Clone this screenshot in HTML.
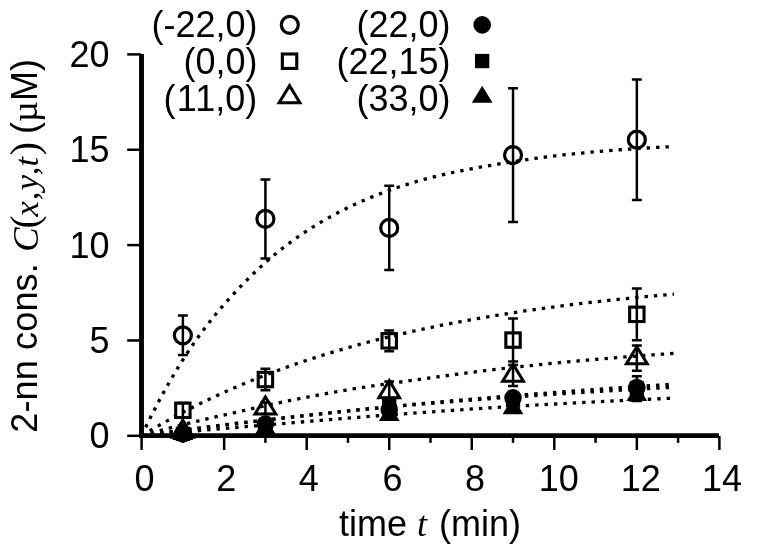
<!DOCTYPE html>
<html lang="en"><head><meta charset="utf-8"><title>2-nn concentration vs time</title>
<style>html,body{margin:0;padding:0;background:#fff}svg{display:block}text{font-family:"Liberation Sans",sans-serif;font-size:36px;fill:#000}.it{font-family:"Liberation Serif",serif;font-style:italic}.se{font-family:"Liberation Serif",serif}</style></head><body>
<svg width="763" height="545" viewBox="0 0 763 545">
<rect width="763" height="545" fill="#fff"/>
<g fill="none" stroke="#000" stroke-width="3.3" stroke-dasharray="3.4 6">
<polyline points="141.6,435.8 145.7,427.18 149.79,418.81 153.89,410.7 157.98,402.83 162.08,395.2 166.17,387.79 170.27,380.61 174.36,373.64 178.46,366.88 182.55,360.32 186.65,353.95 190.74,347.77 194.84,341.79 198.93,336.02 203.03,330.45 207.12,325.07 211.22,319.85 215.31,314.8 219.41,309.9 223.51,305.13 227.6,300.49 231.7,295.96 235.79,291.54 239.89,287.21 243.98,282.96 248.08,278.83 252.17,274.81 256.27,270.9 260.36,267.09 264.46,263.39 268.55,259.8 272.65,256.31 276.74,252.92 280.84,249.63 284.93,246.44 289.03,243.35 293.12,240.35 297.22,237.44 301.31,234.61 305.41,231.86 309.51,229.19 313.6,226.6 317.7,224.09 321.79,221.65 325.89,219.28 329.98,216.98 334.08,214.75 338.17,212.58 342.27,210.48 346.36,208.44 350.46,206.46 354.55,204.53 358.65,202.67 362.74,200.85 366.84,199.09 370.93,197.38 375.03,195.73 379.12,194.11 383.22,192.55 387.32,191.04 391.41,189.57 395.51,188.14 399.6,186.76 403.7,185.42 407.79,184.12 411.89,182.86 415.98,181.65 420.08,180.48 424.17,179.36 428.27,178.27 432.36,177.23 436.46,176.22 440.55,175.24 444.65,174.3 448.74,173.39 452.84,172.5 456.93,171.65 461.03,170.82 465.13,170.01 469.22,169.22 473.32,168.45 477.41,167.7 481.51,166.97 485.6,166.25 489.7,165.55 493.79,164.85 497.89,164.17 501.98,163.49 506.08,162.82 510.17,162.16 514.27,161.51 518.36,160.87 522.46,160.25 526.55,159.64 530.65,159.04 534.74,158.47 538.84,157.9 542.93,157.36 547.03,156.83 551.13,156.33 555.22,155.85 559.32,155.38 563.41,154.92 567.51,154.48 571.6,154.05 575.7,153.63 579.79,153.23 583.89,152.83 587.98,152.45 592.08,152.07 596.17,151.71 600.27,151.36 604.36,151.02 608.46,150.68 612.55,150.36 616.65,150.05 620.74,149.74 624.84,149.44 628.94,149.16 633.03,148.88 637.13,148.61 641.22,148.35 645.32,148.09 649.41,147.84 653.51,147.6 657.6,147.37 661.7,147.15 665.79,146.93 669.89,146.72 673.98,146.51"/>
<polyline points="141.6,435.8 145.7,433.31 149.79,430.86 153.89,428.45 157.98,426.07 162.08,423.73 166.17,421.43 170.27,419.16 174.36,416.92 178.46,414.72 182.55,412.55 186.65,410.42 190.74,408.32 194.84,406.24 198.93,404.2 203.03,402.2 207.12,400.22 211.22,398.27 215.31,396.35 219.41,394.46 223.51,392.6 227.6,390.77 231.7,388.96 235.79,387.18 239.89,385.43 243.98,383.71 248.08,382.01 252.17,380.34 256.27,378.69 260.36,377.07 264.46,375.47 268.55,373.89 272.65,372.34 276.74,370.82 280.84,369.32 284.93,367.84 289.03,366.38 293.12,364.94 297.22,363.53 301.31,362.14 305.41,360.76 309.51,359.41 313.6,358.08 317.7,356.77 321.79,355.48 325.89,354.21 329.98,352.96 334.08,351.73 338.17,350.51 342.27,349.32 346.36,348.14 350.46,346.98 354.55,345.84 358.65,344.71 362.74,343.61 366.84,342.52 370.93,341.44 375.03,340.38 379.12,339.34 383.22,338.32 387.32,337.31 391.41,336.31 395.51,335.33 399.6,334.36 403.7,333.41 407.79,332.48 411.89,331.55 415.98,330.65 420.08,329.75 424.17,328.87 428.27,328 432.36,327.15 436.46,326.31 440.55,325.48 444.65,324.66 448.74,323.86 452.84,323.07 456.93,322.29 461.03,321.52 465.13,320.76 469.22,320.02 473.32,319.29 477.41,318.56 481.51,317.85 485.6,317.15 489.7,316.46 493.79,315.78 497.89,315.11 501.98,314.45 506.08,313.8 510.17,313.16 514.27,312.54 518.36,311.92 522.46,311.3 526.55,310.7 530.65,310.11 534.74,309.53 538.84,308.95 542.93,308.39 547.03,307.83 551.13,307.28 555.22,306.74 559.32,306.21 563.41,305.68 567.51,305.17 571.6,304.66 575.7,304.16 579.79,303.67 583.89,303.18 587.98,302.7 592.08,302.23 596.17,301.77 600.27,301.31 604.36,300.86 608.46,300.42 612.55,299.98 616.65,299.55 620.74,299.13 624.84,298.71 628.94,298.3 633.03,297.89 637.13,297.5 641.22,297.1 645.32,296.72 649.41,296.34 653.51,295.96 657.6,295.59 661.7,295.23 665.79,294.87 669.89,294.52 673.98,294.17"/>
<polyline points="141.6,435.8 145.7,434.63 149.79,433.48 153.89,432.34 157.98,431.21 162.08,430.1 166.17,429.01 170.27,427.93 174.36,426.87 178.46,425.82 182.55,424.78 186.65,423.76 190.74,422.76 194.84,421.77 198.93,420.79 203.03,419.82 207.12,418.85 211.22,417.89 215.31,416.94 219.41,416.01 223.51,415.09 227.6,414.17 231.7,413.26 235.79,412.35 239.89,411.44 243.98,410.53 248.08,409.61 252.17,408.69 256.27,407.77 260.36,406.86 264.46,405.95 268.55,405.05 272.65,404.16 276.74,403.28 280.84,402.42 284.93,401.56 289.03,400.72 293.12,399.89 297.22,399.07 301.31,398.26 305.41,397.45 309.51,396.66 313.6,395.88 317.7,395.11 321.79,394.35 325.89,393.6 329.98,392.86 334.08,392.13 338.17,391.41 342.27,390.7 346.36,390.01 350.46,389.33 354.55,388.67 358.65,388.03 362.74,387.4 366.84,386.79 370.93,386.19 375.03,385.6 379.12,385.02 383.22,384.45 387.32,383.88 391.41,383.31 395.51,382.73 399.6,382.16 403.7,381.58 407.79,381 411.89,380.42 415.98,379.84 420.08,379.27 424.17,378.69 428.27,378.12 432.36,377.56 436.46,376.99 440.55,376.43 444.65,375.88 448.74,375.33 452.84,374.78 456.93,374.24 461.03,373.7 465.13,373.17 469.22,372.64 473.32,372.12 477.41,371.61 481.51,371.1 485.6,370.6 489.7,370.11 493.79,369.62 497.89,369.15 501.98,368.68 506.08,368.22 510.17,367.76 514.27,367.31 518.36,366.86 522.46,366.42 526.55,365.98 530.65,365.55 534.74,365.12 538.84,364.7 542.93,364.28 547.03,363.87 551.13,363.46 555.22,363.06 559.32,362.66 563.41,362.27 567.51,361.88 571.6,361.5 575.7,361.12 579.79,360.75 583.89,360.38 587.98,360.02 592.08,359.66 596.17,359.31 600.27,358.96 604.36,358.61 608.46,358.27 612.55,357.94 616.65,357.61 620.74,357.28 624.84,356.95 628.94,356.63 633.03,356.32 637.13,356.01 641.22,355.7 645.32,355.4 649.41,355.1 653.51,354.8 657.6,354.51 661.7,354.22 665.79,353.93 669.89,353.65 673.98,353.38"/>
<polyline points="141.6,435.8 145.7,435.24 149.79,434.69 153.89,434.14 157.98,433.59 162.08,433.05 166.17,432.51 170.27,431.97 174.36,431.43 178.46,430.9 182.55,430.37 186.65,429.85 190.74,429.32 194.84,428.8 198.93,428.28 203.03,427.77 207.12,427.26 211.22,426.75 215.31,426.24 219.41,425.73 223.51,425.23 227.6,424.73 231.7,424.23 235.79,423.74 239.89,423.24 243.98,422.75 248.08,422.26 252.17,421.78 256.27,421.29 260.36,420.81 264.46,420.33 268.55,419.85 272.65,419.37 276.74,418.89 280.84,418.42 284.93,417.94 289.03,417.47 293.12,417 297.22,416.54 301.31,416.07 305.41,415.61 309.51,415.14 313.6,414.68 317.7,414.23 321.79,413.77 325.89,413.32 329.98,412.87 334.08,412.42 338.17,411.98 342.27,411.54 346.36,411.1 350.46,410.66 354.55,410.23 358.65,409.8 362.74,409.37 366.84,408.95 370.93,408.53 375.03,408.11 379.12,407.69 383.22,407.28 387.32,406.88 391.41,406.47 395.51,406.07 399.6,405.67 403.7,405.28 407.79,404.89 411.89,404.5 415.98,404.11 420.08,403.73 424.17,403.35 428.27,402.97 432.36,402.59 436.46,402.22 440.55,401.85 444.65,401.48 448.74,401.11 452.84,400.75 456.93,400.39 461.03,400.03 465.13,399.68 469.22,399.32 473.32,398.97 477.41,398.62 481.51,398.28 485.6,397.93 489.7,397.59 493.79,397.25 497.89,396.91 501.98,396.57 506.08,396.24 510.17,395.91 514.27,395.58 518.36,395.25 522.46,394.92 526.55,394.6 530.65,394.28 534.74,393.96 538.84,393.64 542.93,393.32 547.03,393.01 551.13,392.69 555.22,392.38 559.32,392.07 563.41,391.77 567.51,391.46 571.6,391.16 575.7,390.86 579.79,390.56 583.89,390.26 587.98,389.97 592.08,389.67 596.17,389.38 600.27,389.09 604.36,388.8 608.46,388.51 612.55,388.23 616.65,387.95 620.74,387.66 624.84,387.38 628.94,387.11 633.03,386.83 637.13,386.55 641.22,386.28 645.32,386.01 649.41,385.74 653.51,385.47 657.6,385.2 661.7,384.94 665.79,384.68 669.89,384.41 673.98,384.15"/>
<polyline points="141.6,435.8 145.7,435.22 149.79,434.64 153.89,434.06 157.98,433.5 162.08,432.93 166.17,432.37 170.27,431.81 174.36,431.26 178.46,430.72 182.55,430.17 186.65,429.63 190.74,429.1 194.84,428.57 198.93,428.04 203.03,427.52 207.12,427 211.22,426.48 215.31,425.97 219.41,425.46 223.51,424.96 227.6,424.46 231.7,423.96 235.79,423.46 239.89,422.97 243.98,422.48 248.08,422 252.17,421.51 256.27,421.03 260.36,420.55 264.46,420.08 268.55,419.61 272.65,419.14 276.74,418.67 280.84,418.21 284.93,417.75 289.03,417.29 293.12,416.83 297.22,416.38 301.31,415.92 305.41,415.48 309.51,415.03 313.6,414.59 317.7,414.15 321.79,413.71 325.89,413.28 329.98,412.85 334.08,412.42 338.17,412 342.27,411.58 346.36,411.16 350.46,410.75 354.55,410.34 358.65,409.93 362.74,409.53 366.84,409.13 370.93,408.73 375.03,408.34 379.12,407.95 383.22,407.57 387.32,407.19 391.41,406.82 395.51,406.44 399.6,406.07 403.7,405.71 407.79,405.35 411.89,404.99 415.98,404.63 420.08,404.28 424.17,403.93 428.27,403.59 432.36,403.24 436.46,402.9 440.55,402.57 444.65,402.23 448.74,401.9 452.84,401.57 456.93,401.25 461.03,400.93 465.13,400.61 469.22,400.29 473.32,399.98 477.41,399.66 481.51,399.35 485.6,399.05 489.7,398.74 493.79,398.44 497.89,398.14 501.98,397.84 506.08,397.55 510.17,397.25 514.27,396.96 518.36,396.68 522.46,396.39 526.55,396.11 530.65,395.82 534.74,395.54 538.84,395.27 542.93,394.99 547.03,394.72 551.13,394.45 555.22,394.18 559.32,393.91 563.41,393.65 567.51,393.39 571.6,393.13 575.7,392.87 579.79,392.61 583.89,392.36 587.98,392.11 592.08,391.86 596.17,391.61 600.27,391.36 604.36,391.12 608.46,390.87 612.55,390.63 616.65,390.39 620.74,390.16 624.84,389.92 628.94,389.69 633.03,389.45 637.13,389.22 641.22,389 645.32,388.77 649.41,388.54 653.51,388.32 657.6,388.1 661.7,387.88 665.79,387.66 669.89,387.45 673.98,387.23"/>
<polyline points="141.6,435.8 145.7,435.42 149.79,435.05 153.89,434.68 157.98,434.31 162.08,433.94 166.17,433.57 170.27,433.2 174.36,432.84 178.46,432.47 182.55,432.11 186.65,431.75 190.74,431.39 194.84,431.03 198.93,430.67 203.03,430.32 207.12,429.96 211.22,429.61 215.31,429.25 219.41,428.9 223.51,428.55 227.6,428.2 231.7,427.85 235.79,427.5 239.89,427.15 243.98,426.8 248.08,426.46 252.17,426.11 256.27,425.77 260.36,425.42 264.46,425.07 268.55,424.73 272.65,424.39 276.74,424.04 280.84,423.7 284.93,423.36 289.03,423.01 293.12,422.67 297.22,422.33 301.31,421.99 305.41,421.64 309.51,421.3 313.6,420.96 317.7,420.62 321.79,420.29 325.89,419.95 329.98,419.61 334.08,419.28 338.17,418.95 342.27,418.62 346.36,418.29 350.46,417.96 354.55,417.63 358.65,417.31 362.74,416.99 366.84,416.67 370.93,416.35 375.03,416.04 379.12,415.72 383.22,415.41 387.32,415.11 391.41,414.8 395.51,414.49 399.6,414.19 403.7,413.88 407.79,413.58 411.89,413.28 415.98,412.97 420.08,412.68 424.17,412.38 428.27,412.08 432.36,411.79 436.46,411.49 440.55,411.2 444.65,410.91 448.74,410.63 452.84,410.34 456.93,410.06 461.03,409.78 465.13,409.5 469.22,409.22 473.32,408.95 477.41,408.68 481.51,408.41 485.6,408.14 489.7,407.88 493.79,407.62 497.89,407.36 501.98,407.11 506.08,406.86 510.17,406.61 514.27,406.36 518.36,406.12 522.46,405.88 526.55,405.64 530.65,405.4 534.74,405.17 538.84,404.93 542.93,404.7 547.03,404.47 551.13,404.24 555.22,404.01 559.32,403.78 563.41,403.56 567.51,403.34 571.6,403.11 575.7,402.89 579.79,402.68 583.89,402.46 587.98,402.25 592.08,402.03 596.17,401.82 600.27,401.61 604.36,401.41 608.46,401.2 612.55,401 616.65,400.79 620.74,400.59 624.84,400.39 628.94,400.2 633.03,400 637.13,399.81 641.22,399.61 645.32,399.42 649.41,399.24 653.51,399.05 657.6,398.86 661.7,398.68 665.79,398.5 669.89,398.32 673.98,398.14"/>
</g>
<g stroke="#000" fill="none">
<path d="M141.5,54 V438.1" stroke-width="4.9"/>
<path d="M139.05,435.7 H719" stroke-width="4.7"/>
<g stroke-width="2.5">
<path d="M127.2,435.8 H141"/>
<path d="M127.2,340.45 H141"/>
<path d="M127.2,245.1 H141"/>
<path d="M127.2,149.75 H141"/>
<path d="M127.2,54.4 H141"/>
<path d="M141.6,436 V450"/>
<path d="M182.87,436 V442.9"/>
<path d="M224.14,436 V450"/>
<path d="M265.41,436 V442.9"/>
<path d="M306.68,436 V450"/>
<path d="M347.95,436 V442.9"/>
<path d="M389.22,436 V450"/>
<path d="M430.49,436 V442.9"/>
<path d="M471.76,436 V450"/>
<path d="M513.03,436 V442.9"/>
<path d="M554.3,436 V450"/>
<path d="M595.57,436 V442.9"/>
<path d="M636.84,436 V450"/>
<path d="M678.11,436 V442.9"/>
<path d="M719.38,436 V450"/>
</g></g>
<g>
<g stroke="#000" stroke-width="2.5" fill="none">
<path d="M182.87,315.56 V355.04 M177.92,315.56 h9.9 M177.92,355.04 h9.9"/>
<path d="M265.41,179.5 V258.45 M260.46,179.5 h9.9 M260.46,258.45 h9.9"/>
<path d="M389.22,185.79 V270.08 M384.27,185.79 h9.9 M384.27,270.08 h9.9"/>
<path d="M513.03,88.15 V222.03 M508.08,88.15 h9.9 M508.08,222.03 h9.9"/>
<path d="M636.84,79.38 V199.9 M631.89,79.38 h9.9 M631.89,199.9 h9.9"/>
</g>
<circle cx="182.87" cy="335.3" r="8.5" fill="none" stroke="#000" stroke-width="3.2"/>
<circle cx="265.41" cy="218.97" r="8.5" fill="none" stroke="#000" stroke-width="3.2"/>
<circle cx="389.22" cy="227.94" r="8.5" fill="none" stroke="#000" stroke-width="3.2"/>
<circle cx="513.03" cy="155.09" r="8.5" fill="none" stroke="#000" stroke-width="3.2"/>
<circle cx="636.84" cy="139.64" r="8.5" fill="none" stroke="#000" stroke-width="3.2"/>
</g>
<g>
<g stroke="#000" stroke-width="2.5" fill="none">
<path d="M182.87,403.06 V417.55 M177.92,403.06 h9.9 M177.92,417.55 h9.9"/>
<path d="M265.41,368.86 V390.22 M260.46,368.86 h9.9 M260.46,390.22 h9.9"/>
<path d="M389.22,330.53 V351.13 M384.27,330.53 h9.9 M384.27,351.13 h9.9"/>
<path d="M513.03,318.52 V361.62 M508.08,318.52 h9.9 M508.08,361.62 h9.9"/>
<path d="M636.84,288.39 V340.26 M631.89,288.39 h9.9 M631.89,340.26 h9.9"/>
</g>
<rect x="175.67" y="403.1" width="14.4" height="14.4" fill="none" stroke="#000" stroke-width="3.1"/>
<rect x="258.21" y="372.34" width="14.4" height="14.4" fill="none" stroke="#000" stroke-width="3.1"/>
<rect x="382.02" y="333.63" width="14.4" height="14.4" fill="none" stroke="#000" stroke-width="3.1"/>
<rect x="505.83" y="332.87" width="14.4" height="14.4" fill="none" stroke="#000" stroke-width="3.1"/>
<rect x="629.64" y="307.12" width="14.4" height="14.4" fill="none" stroke="#000" stroke-width="3.1"/>
</g>
<g>
<g stroke="#000" stroke-width="2.5" fill="none">
<path d="M182.87,429.7 V433.51 M177.92,429.7 h9.9 M177.92,433.51 h9.9"/>
<path d="M265.41,402.62 V414.06 M260.46,402.62 h9.9 M260.46,414.06 h9.9"/>
<path d="M389.22,381.45 V402.43 M384.27,381.45 h9.9 M384.27,402.43 h9.9"/>
<path d="M513.03,365.05 V386.03 M508.08,365.05 h9.9 M508.08,386.03 h9.9"/>
<path d="M636.84,345.41 V370.77 M631.89,345.41 h9.9 M631.89,370.77 h9.9"/>
</g>
<path d="M182.87,420.2 L193.27,437.3 L172.47,437.3 Z" fill="none" stroke="#000" stroke-width="3" stroke-miterlimit="10"/>
<path d="M265.41,396.94 L275.81,414.04 L255.01,414.04 Z" fill="none" stroke="#000" stroke-width="3" stroke-miterlimit="10"/>
<path d="M389.22,380.54 L399.62,397.64 L378.82,397.64 Z" fill="none" stroke="#000" stroke-width="3" stroke-miterlimit="10"/>
<path d="M513.03,364.14 L523.43,381.24 L502.63,381.24 Z" fill="none" stroke="#000" stroke-width="3" stroke-miterlimit="10"/>
<path d="M636.84,346.69 L647.24,363.79 L626.44,363.79 Z" fill="none" stroke="#000" stroke-width="3" stroke-miterlimit="10"/>
</g>
<g>
<g stroke="#000" stroke-width="2.5" fill="none">
<path d="M182.87,432.94 V434.85 M177.92,432.94 h9.9 M177.92,434.85 h9.9"/>
<path d="M265.41,422.07 V425.88 M260.46,422.07 h9.9 M260.46,425.88 h9.9"/>
<path d="M389.22,405.86 V413.49 M384.27,405.86 h9.9 M384.27,413.49 h9.9"/>
<path d="M513.03,392.13 V403.57 M508.08,392.13 h9.9 M508.08,403.57 h9.9"/>
<path d="M636.84,381.83 V393.27 M631.89,381.83 h9.9 M631.89,393.27 h9.9"/>
</g>
<circle cx="182.87" cy="433.89" r="8.8" fill="#000" stroke="none"/>
<circle cx="265.41" cy="423.98" r="8.8" fill="#000" stroke="none"/>
<circle cx="389.22" cy="409.67" r="8.8" fill="#000" stroke="none"/>
<circle cx="513.03" cy="397.85" r="8.8" fill="#000" stroke="none"/>
<circle cx="636.84" cy="387.55" r="8.8" fill="#000" stroke="none"/>
</g>
<g>
<g stroke="#000" stroke-width="2.5" fill="none">
<path d="M182.87,432.94 V434.85 M177.92,432.94 h9.9 M177.92,434.85 h9.9"/>
<path d="M265.41,424.36 V428.17 M260.46,424.36 h9.9 M260.46,428.17 h9.9"/>
<path d="M389.22,400.14 V407.77 M384.27,400.14 h9.9 M384.27,407.77 h9.9"/>
<path d="M513.03,396.33 V403.95 M508.08,396.33 h9.9 M508.08,403.95 h9.9"/>
<path d="M636.84,376.3 V401.09 M631.89,376.3 h9.9 M631.89,401.09 h9.9"/>
</g>
<rect x="175.72" y="426.74" width="14.3" height="14.3" fill="#000" stroke="none"/>
<rect x="258.26" y="419.12" width="14.3" height="14.3" fill="#000" stroke="none"/>
<rect x="382.07" y="396.8" width="14.3" height="14.3" fill="#000" stroke="none"/>
<rect x="505.88" y="392.99" width="14.3" height="14.3" fill="#000" stroke="none"/>
<rect x="629.69" y="381.55" width="14.3" height="14.3" fill="#000" stroke="none"/>
</g>
<g>
<g stroke="#000" stroke-width="2.5" fill="none">
<path d="M182.87,433.32 V435.23 M177.92,433.32 h9.9 M177.92,435.23 h9.9"/>
<path d="M265.41,426.65 V430.46 M260.46,426.65 h9.9 M260.46,430.46 h9.9"/>
<path d="M389.22,413.39 V417.21 M384.27,413.39 h9.9 M384.27,417.21 h9.9"/>
<path d="M513.03,404.72 V412.34 M508.08,404.72 h9.9 M508.08,412.34 h9.9"/>
<path d="M636.84,391.56 V399.19 M631.89,391.56 h9.9 M631.89,399.19 h9.9"/>
</g>
<path d="M182.87,422.87 L193.27,439.97 L172.47,439.97 Z" fill="#000" stroke="none"/>
<path d="M265.41,417.15 L275.81,434.25 L255.01,434.25 Z" fill="#000" stroke="none"/>
<path d="M389.22,403.9 L399.62,421 L378.82,421 Z" fill="#000" stroke="none"/>
<path d="M513.03,397.13 L523.43,414.23 L502.63,414.23 Z" fill="#000" stroke="none"/>
<path d="M636.84,383.97 L647.24,401.07 L626.44,401.07 Z" fill="#000" stroke="none"/>
</g>
<circle cx="289.8" cy="24.8" r="8.5" fill="none" stroke="#000" stroke-width="3.2"/>
<rect x="282.35" y="54" width="14.4" height="14.4" fill="none" stroke="#000" stroke-width="3.1"/>
<path d="M289.5,85.6 L299.9,102.7 L279.1,102.7 Z" fill="none" stroke="#000" stroke-width="3" stroke-miterlimit="10"/>
<circle cx="482.2" cy="24.9" r="8.8" fill="#000" stroke="none"/>
<rect x="475" y="53.9" width="14.3" height="14.3" fill="#000" stroke="none"/>
<path d="M482.2,85.7 L492.6,102.8 L471.8,102.8 Z" fill="#000" stroke="none"/>
<text x="257.5" y="37.1" text-anchor="end">(-22,0)</text>
<text x="450.5" y="37.1" text-anchor="end">(22,0)</text>
<text x="257.5" y="73.8" text-anchor="end">(0,0)</text>
<text x="450.5" y="73.8" text-anchor="end">(22,15)</text>
<text x="259.7" y="110.5" text-anchor="end"><tspan dx="-2.4">(</tspan><tspan dx="1.2">1</tspan><tspan dx="1.2">1</tspan>,0)</text>
<text x="450.5" y="110.5" text-anchor="end">(33,0)</text>
<text x="109.6" y="448.3" text-anchor="end">0</text>
<text x="109.6" y="352.95" text-anchor="end">5</text>
<text x="109.6" y="257.6" text-anchor="end">10</text>
<text x="109.6" y="162.25" text-anchor="end">15</text>
<text x="109.6" y="66.9" text-anchor="end">20</text>
<text x="144.6" y="491.4" text-anchor="middle">0</text>
<text x="226.24" y="491.4" text-anchor="middle">2</text>
<text x="308.88" y="491.4" text-anchor="middle">4</text>
<text x="392.42" y="491.4" text-anchor="middle">6</text>
<text x="474.96" y="491.4" text-anchor="middle">8</text>
<text x="558.8" y="491.4" text-anchor="middle">10</text>
<text x="640.74" y="491.4" text-anchor="middle">12</text>
<text x="721.98" y="491.4" text-anchor="middle">14</text>
<text x="339" y="536">time <tspan class="it">t</tspan> <tspan dx="2">(min)</tspan></text>
<text transform="translate(37.4,0) rotate(-90)"><tspan x="-432.7" letter-spacing="0.15">2-nn cons.</tspan><tspan x="-134">(</tspan><tspan class="se">µ</tspan><tspan x="-101">M)</tspan></text>
<text transform="translate(38.3,0) rotate(-90)" class="it" style="font-size:36.5px"><tspan x="-251.7">C</tspan><tspan x="-216.5" style="font-size:34.5px">x</tspan><tspan x="-200.2" style="font-size:34.5px">,</tspan><tspan x="-190.3" style="font-size:34.5px">y</tspan><tspan x="-175.3" style="font-size:34.5px">,</tspan><tspan x="-166.5" style="font-size:34.5px">t</tspan></text>
<text transform="translate(38.3,0) rotate(-90)" class="se" style="font-size:39.5px"><tspan x="-228.5">(</tspan><tspan x="-155.2">)</tspan></text>
</svg></body></html>
